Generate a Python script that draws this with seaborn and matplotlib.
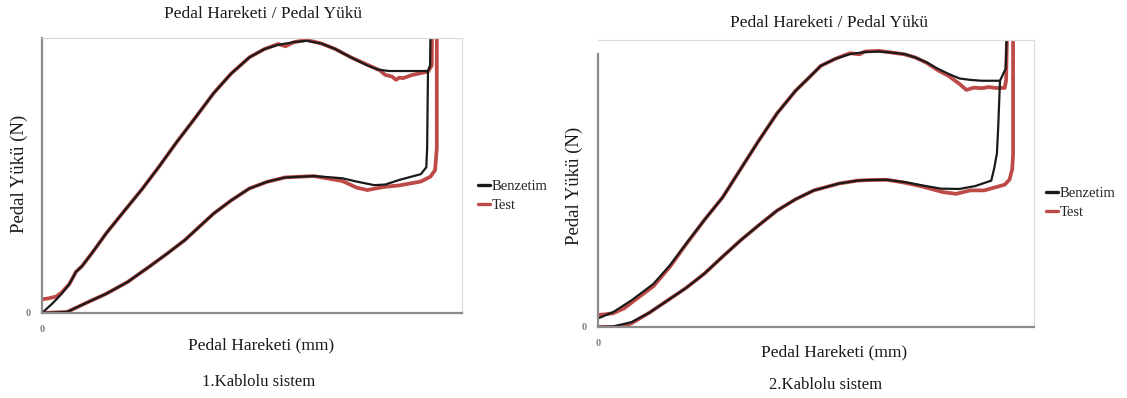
import numpy as np
import pandas as pd
import matplotlib
matplotlib.use("Agg")
import matplotlib.pyplot as plt
from matplotlib.lines import Line2D
import seaborn as sns

sns.set_theme(style="white")
plt.rcParams['font.family'] = ['Liberation Serif', 'DejaVu Serif']

# ---------------- data (normalised units: x = pedal travel, y = pedal load) -------------
series_names = ["Benzetim", "Test"]
panel_titles = ["Pedal Hareketi / Pedal Yükü", "Pedal Hareketi / Pedal Yükü"]
panel_captions = ["1.Kablolu sistem", "2.Kablolu sistem"]
x_label = "Pedal Hareketi (mm)"
y_label = "Pedal Yükü (N)"

# ---- panel 1, Benzetim ----
p1_sim_load_x = [0, 2.5, 4.7, 6.5, 8.1, 9.5, 12, 15.3, 19, 23.8, 28, 32, 36, 40.9, 45, 49.4, 53, 56.2,
                 60, 63, 66.5, 69.8, 73.5, 77.5, 80, 82.6, 87, 91.9, 92.4, 92.6]
p1_sim_load_y = [0, 3.5, 7, 10.5, 15, 17, 22, 29, 36, 45, 53.5, 62, 70, 80, 87, 93, 96, 97.5,
                 98.5, 99, 98, 96, 93, 90, 88.5, 88, 88, 88, 90, 115]
p1_sim_ret_x = [91.9, 91.7, 91.5, 90.2, 85.1, 81.7, 79.1, 74.9, 71.5, 64.7, 57.9, 53.6, 49.4, 45.1,
                40.9, 37.4, 34, 29.8, 25.5, 20.4, 15.3, 11, 6, 3, 0]
p1_sim_ret_y = [88, 60, 53, 50.5, 48.4, 46.7, 46.5, 47.8, 49, 49.8, 49.3, 47.7, 45.3, 41,
                36.2, 31.3, 26.5, 21.6, 16.8, 11.3, 7, 4, 0.4, 0.2, 0]
# ---- panel 1, Test ----
p1_test_load_x = [0, 1.5, 3.4, 4.7, 6.5, 8.1, 9.5, 12, 15.3, 19, 23.8, 28, 32, 36, 40.9, 45, 49.4, 53,
                  56.2, 58, 60, 63, 66.5, 69.8, 73.5, 78.3, 80.5, 81.7, 83.3, 84.3, 85.1, 86, 88,
                  91.9, 92.8, 92.9]
p1_test_load_y = [5, 5.3, 6, 7.5, 10.5, 15, 17, 22, 29, 36, 45, 53.5, 62, 70, 80, 87, 93, 96,
                  97.8, 97, 98.5, 99.3, 98, 96, 93, 89.7, 88.2, 86.6, 86, 84.8, 85.6, 85.4, 86.5,
                  87.8, 90, 115]
p1_test_ret_x = [94.0, 94.0, 93.6, 92.5, 90.2, 85.1, 81.7, 79.1, 77.5, 74.9, 71.5, 64.7, 57.9, 53.6,
                 49.4, 45.1, 40.9, 37.4, 34, 29.8, 25.5, 20.4, 15.3, 11, 6, 3, 0]
p1_test_ret_y = [115, 60, 52, 49.6, 47.8, 46.4, 45.9, 45.2, 44.7, 45.6, 48, 49.8, 49.3, 47.7,
                 45.3, 41, 36.2, 31.3, 26.5, 21.6, 16.8, 11.3, 7, 4, 0.4, 0.2, 0]

# ---- panel 2, Benzetim ----
p2_sim_load_x = [0, 3.5, 7.7, 12.7, 16.5, 20.2, 24.4, 28.6, 32.7, 36.9, 41.1, 45.3, 48.2, 51.1, 54.5,
                 57.8, 61.2, 64.5, 67.5, 70.3, 72.8, 75.4, 77.9, 80.4, 82.9, 85.4, 88, 92.2, 93.5, 94.0]
p2_sim_load_y = [3, 5.2, 9.3, 15, 21.5, 29, 37.3, 45.2, 55, 65, 74.5, 82.3, 86.6, 91, 93.5,
                 95.1, 95.8, 96, 95.6, 95.1, 93.9, 92.2, 90, 88.2, 86.6, 86.1, 85.8, 85.8, 90, 115]
p2_sim_ret_x = [92.2, 91.8, 91.5, 90.9, 90.2, 86.5, 82.9, 78.7, 74.5, 70.3, 66.2, 62, 59.5, 55.3,
                49.5, 45.3, 41.1, 36.9, 32.7, 28.5, 24.4, 20.2, 16, 11.8, 7.7, 3.5, 0]
p2_sim_ret_y = [85.8, 70, 60.6, 55.5, 51, 49.1, 48.1, 48.2, 49.3, 50.5, 51.3, 51.2, 51, 50,
                47.6, 44.5, 40.6, 35.5, 30.2, 24.4, 18.6, 13.6, 9.3, 5, 1.7, 0.2, 0]
# ---- panel 2, Test ----
p2_test_load_x = [0, 1.5, 3.5, 6, 7.7, 12.7, 16.5, 20.2, 24.4, 28.6, 32.7, 36.9, 41.1, 45.3, 48.2, 51.1,
                  54.5, 57.8, 60, 61.2, 64.5, 67.5, 70.3, 72.8, 75.4, 77.9, 80.4, 82.9, 84.5, 86.2,
                  88, 89.6, 91.2, 93.3, 93.6, 94.0]
p2_test_load_y = [4.2, 4.4, 4.8, 6.5, 8.5, 14.2, 21, 28.8, 37.3, 45.2, 55, 65, 74.5, 82.3, 86.6,
                  91, 93.5, 95.4, 95, 96, 96.2, 95.6, 95, 93.9, 92, 89.5, 87.5, 84.7, 82.6, 83.4,
                  83.2, 83.6, 83.3, 83.3, 86, 115]
p2_test_ret_x = [95.2, 95.2, 95.0, 94.4, 93.3, 91.2, 88.6, 85.4, 82.1, 79.1, 74.5, 70.3, 66.2, 62,
                 59.5, 55.3, 49.5, 45.3, 41.1, 36.9, 32.7, 28.5, 24.4, 20.2, 16, 11.8, 7.7, 6,
                 3.5, 0]
p2_test_ret_y = [115, 60, 55, 51.4, 49.6, 48.7, 47.6, 47.6, 46.4, 47, 48.9, 50.3, 51.3, 51.2,
                 51, 50, 47.6, 44.5, 40.6, 35.5, 30.2, 24.4, 18.6, 13.6, 9.3, 5, 1.3, 0.3, 0, 0]

panels = [
    {"sim": [(p1_sim_load_x, p1_sim_load_y), (p1_sim_ret_x, p1_sim_ret_y)],
     "test": [(p1_test_load_x, p1_test_load_y), (p1_test_ret_x, p1_test_ret_y)]},
    {"sim": [(p2_sim_load_x, p2_sim_load_y), (p2_sim_ret_x, p2_sim_ret_y)],
     "test": [(p2_test_load_x, p2_test_load_y), (p2_test_ret_x, p2_test_ret_y)]},
]


def to_frame(segments):
    rows = []
    for k, (xs, ys) in enumerate(segments):
        for i, (xv, yv) in enumerate(zip(xs, ys)):
            rows.append({"x": xv, "y": yv, "seg": k, "order": i})
    return pd.DataFrame(rows)


# ---------------- layout (pixels of a 1127 x 398 canvas) ----------------
W, H = 1127, 398
fig = plt.figure(figsize=(W / 100, H / 100), dpi=100)
fig.patch.set_facecolor("white")

axes_px = [(42, 462, 38, 313), (598, 1034, 40, 327)]           # left, right, top, bottom
title_px = [(263, 14), (829, 23)]
xlabel_px = [(261, 345), (834, 352)]
caption_px = [(259, 382), (826, 385)]
ylabel_px = [(19, 174), (574, 186)]
legend_px = [(478, 196), (1046, 203)]

RED = "#bd4a47"
BLACK = "#1a1a1a"

for i, p in enumerate(panels):
    l, r, t, b = axes_px[i]
    ax = fig.add_axes([l / W, 1 - b / H, (r - l) / W, (b - t) / H])
    ax.set_facecolor("white")

    df_test = to_frame(p["test"])
    df_sim = to_frame(p["sim"])
    sns.lineplot(data=df_test, x="x", y="y", units="seg", estimator=None, sort=False,
                 color=RED, linewidth=2.7, ax=ax, legend=False)
    sns.lineplot(data=df_sim, x="x", y="y", units="seg", estimator=None, sort=False,
                 color=BLACK, linewidth=1.6, ax=ax, legend=False)

    ax.set_xlim(0, 100)
    ax.set_ylim(0, 100)
    ax.set_xlabel("")
    ax.set_ylabel("")
    ax.set_xticks([0])
    ax.set_yticks([0])
    ax.set_xticklabels(["0"], color="#808080", fontsize=7.5, fontweight="bold")
    ax.set_yticklabels(["0"], color="#808080", fontsize=7.5, fontweight="bold")
    ax.tick_params(axis="x", length=0, pad=9)
    ax.tick_params(axis="y", length=0, pad=8)

    for s in ["left", "bottom"]:
        ax.spines[s].set_visible(True)
        ax.spines[s].set_color("#8c8c8c")
        ax.spines[s].set_linewidth(1.6)
    for s in ["top", "right"]:
        ax.spines[s].set_visible(True)
        ax.spines[s].set_color("#dcdcdc")
        ax.spines[s].set_linewidth(0.9)
    if i == 1:
        ax.spines["left"].set_bounds(0, 95)

    fig.text(title_px[i][0] / W, 1 - title_px[i][1] / H, panel_titles[i],
             ha="center", va="center", fontsize=12.5, color="#1a1a1a")
    fig.text(xlabel_px[i][0] / W, 1 - xlabel_px[i][1] / H, x_label,
             ha="center", va="center", fontsize=12.5, color="#1a1a1a")
    fig.text(caption_px[i][0] / W, 1 - caption_px[i][1] / H, panel_captions[i],
             ha="center", va="center", fontsize=12, color="#1a1a1a")
    fig.text(ylabel_px[i][0] / W, 1 - ylabel_px[i][1] / H, y_label,
             ha="center", va="center", rotation=90, fontsize=13.5, color="#1a1a1a")

    handles = [Line2D([], [], color=BLACK, linewidth=2.4),
               Line2D([], [], color=RED, linewidth=2.4)]
    fig.legend(handles, series_names, loc="center left",
               bbox_to_anchor=(legend_px[i][0] / W, 1 - legend_px[i][1] / H),
               frameon=False, fontsize=10.5, handlelength=0.8, handletextpad=0.15,
               labelspacing=0.45, borderpad=0, borderaxespad=0)

fig.savefig("out.png", dpi=100, facecolor="white")
